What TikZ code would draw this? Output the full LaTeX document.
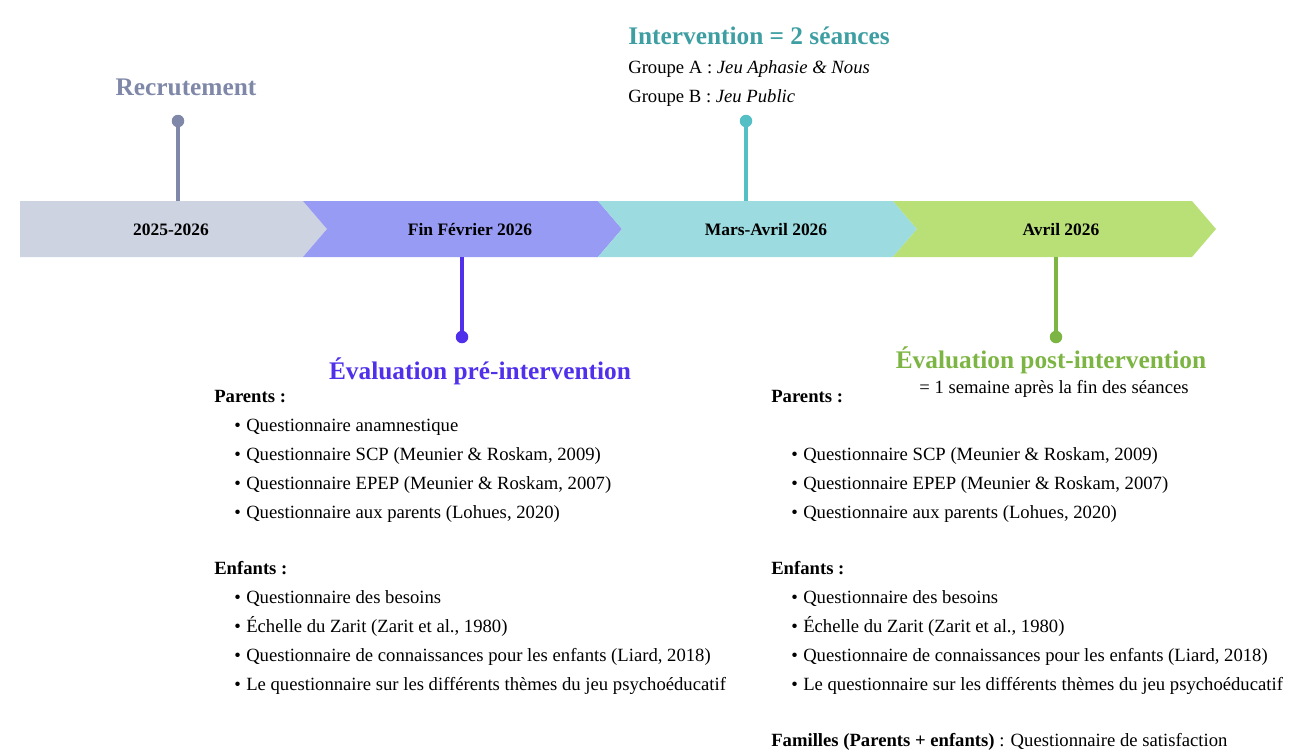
\documentclass[tikz,border=0pt]{standalone}
\usepackage{fontspec}
\setmainfont{Liberation Serif}
\definecolor{segGray}{HTML}{CDD3E0}
\definecolor{segPurple}{HTML}{979BF3}
\definecolor{segTeal}{HTML}{9CDCE0}
\definecolor{segGreen}{HTML}{B9E077}
\definecolor{recCol}{HTML}{7F88A8}
\definecolor{preCol}{HTML}{5030EA}
\definecolor{intCol}{HTML}{3E9FA3}
\definecolor{intDot}{HTML}{55BFC6}
\definecolor{postCol}{HTML}{7DB544}
\newlength{\pxu}\setlength{\pxu}{0.75pt}
\begin{document}
\begin{tikzpicture}[x=0.75pt,y=-0.75pt,
  seglabel/.style={font=\fontsize{13.1pt}{15pt}\selectfont\bfseries, inner sep=0pt},
  heading/.style={font=\fontsize{19pt}{22pt}\selectfont\bfseries, inner sep=0pt, text height=13.5pt, text depth=0.5pt},
  body/.style={font=\fontsize{14pt}{17pt}\selectfont, inner sep=0pt, anchor=west, text height=9.5pt, text depth=3pt},
  item/.style={body},
  stem/.style={line width=2.4pt},
  dotnode/.style={circle, inner sep=0pt, minimum size=12.5\pxu}
]
\useasboundingbox (0,0) rectangle (1295,751);
% bar segments
\fill[segGray] (20,201) -- (303,201) -- (327,229) -- (303,257) -- (20,257) -- cycle;
\fill[segPurple] (303,201) -- (598,201) -- (622,229) -- (598,257) -- (303,257) -- (327,229) -- cycle;
\fill[segTeal] (598,201) -- (893,201) -- (917,229) -- (893,257) -- (598,257) -- (622,229) -- cycle;
\fill[segGreen] (893,201) -- (1192,201) -- (1216,229) -- (1192,257) -- (893,257) -- (917,229) -- cycle;
\node[seglabel] (s1) at (171,230) {2025-2026};
\node[seglabel] (s2) at (470,230) {Fin Février 2026};
\node[seglabel] (s3) at (766,230) {Mars-Avril 2026};
\node[seglabel] (s4) at (1061,230) {Avril 2026};
% stems anchors on bar
\coordinate (recBar) at (178,201);
\coordinate (intBar) at (746,201);
\coordinate (preBar) at (462,257);
\coordinate (postBar) at (1056,257);
% dots
\node[dotnode, fill=recCol] (recDot) at (178,121) {};
\node[dotnode, fill=intDot] (intDot) at (746,121) {};
\node[dotnode, fill=preCol] (preDot) at (462,337) {};
\node[dotnode, fill=postCol] (postDot) at (1056,337) {};
\draw[stem, recCol] (recDot.center) -- (recBar);
\draw[stem, intDot] (intDot.center) -- (intBar);
\draw[stem, preCol] (preDot.center) -- (preBar);
\draw[stem, postCol] (postDot.center) -- (postBar);
% headings
\node[heading, text=recCol] (recT) at (186,87) {Recrutement};
\node[heading, text=intCol, anchor=west] (intT) at (628,36) {Intervention = 2 séances};
\node[body] (grA) at (628,69) {Groupe A : \textit{Jeu Aphasie \& Nous}};
\node[body] (grB) at (628,98) {Groupe B : \textit{Jeu Public}};
\node[heading, text=preCol] (preT) at (480,371) {Évaluation pré-intervention};
\node[heading, text=postCol] (postT) at (1051,360) {Évaluation post-intervention};
\node[body, anchor=center] (postSub) at (1054,389) {= 1 semaine après la fin des séances};
% left list
\node[body, font=\fontsize{14pt}{17pt}\selectfont\bfseries] (lPar) at (214,398) {Parents :};
\node[item] (l1) at (234,427) {\makebox[12\pxu][l]{\textbullet}Questionnaire anamnestique};
\node[item] (l2) at (234,456) {\makebox[12\pxu][l]{\textbullet}Questionnaire SCP (Meunier \& Roskam, 2009)};
\node[item] (l3) at (234,485) {\makebox[12\pxu][l]{\textbullet}Questionnaire EPEP (Meunier \& Roskam, 2007)};
\node[item] (l4) at (234,514) {\makebox[12\pxu][l]{\textbullet}Questionnaire aux parents (Lohues, 2020)};
\node[body, font=\fontsize{14pt}{17pt}\selectfont\bfseries] (lEnf) at (214,570) {Enfants :};
\node[item] (l5) at (234,599) {\makebox[12\pxu][l]{\textbullet}Questionnaire des besoins};
\node[item] (l6) at (234,628) {\makebox[12\pxu][l]{\textbullet}Échelle du Zarit (Zarit et al., 1980)};
\node[item] (l7) at (234,657) {\makebox[12\pxu][l]{\textbullet}Questionnaire de connaissances pour les enfants (Liard, 2018)};
\node[item] (l8) at (234,686) {\makebox[12\pxu][l]{\textbullet}Le questionnaire sur les différents thèmes du jeu psychoéducatif};
% right list
\node[body, font=\fontsize{14pt}{17pt}\selectfont\bfseries] (rPar) at (771,398) {Parents :};
\node[item] (r2) at (791,456) {\makebox[12\pxu][l]{\textbullet}Questionnaire SCP (Meunier \& Roskam, 2009)};
\node[item] (r3) at (791,485) {\makebox[12\pxu][l]{\textbullet}Questionnaire EPEP (Meunier \& Roskam, 2007)};
\node[item] (r4) at (791,514) {\makebox[12\pxu][l]{\textbullet}Questionnaire aux parents (Lohues, 2020)};
\node[body, font=\fontsize{14pt}{17pt}\selectfont\bfseries] (rEnf) at (771,570) {Enfants :};
\node[item] (r5) at (791,599) {\makebox[12\pxu][l]{\textbullet}Questionnaire des besoins};
\node[item] (r6) at (791,628) {\makebox[12\pxu][l]{\textbullet}Échelle du Zarit (Zarit et al., 1980)};
\node[item] (r7) at (791,657) {\makebox[12\pxu][l]{\textbullet}Questionnaire de connaissances pour les enfants (Liard, 2018)};
\node[item] (r8) at (791,686) {\makebox[12\pxu][l]{\textbullet}Le questionnaire sur les différents thèmes du jeu psychoéducatif};
\node[body] (fam) at (771,742) {\textbf{Familles (Parents + enfants)} : Questionnaire de satisfaction};
\end{tikzpicture}
\end{document}
